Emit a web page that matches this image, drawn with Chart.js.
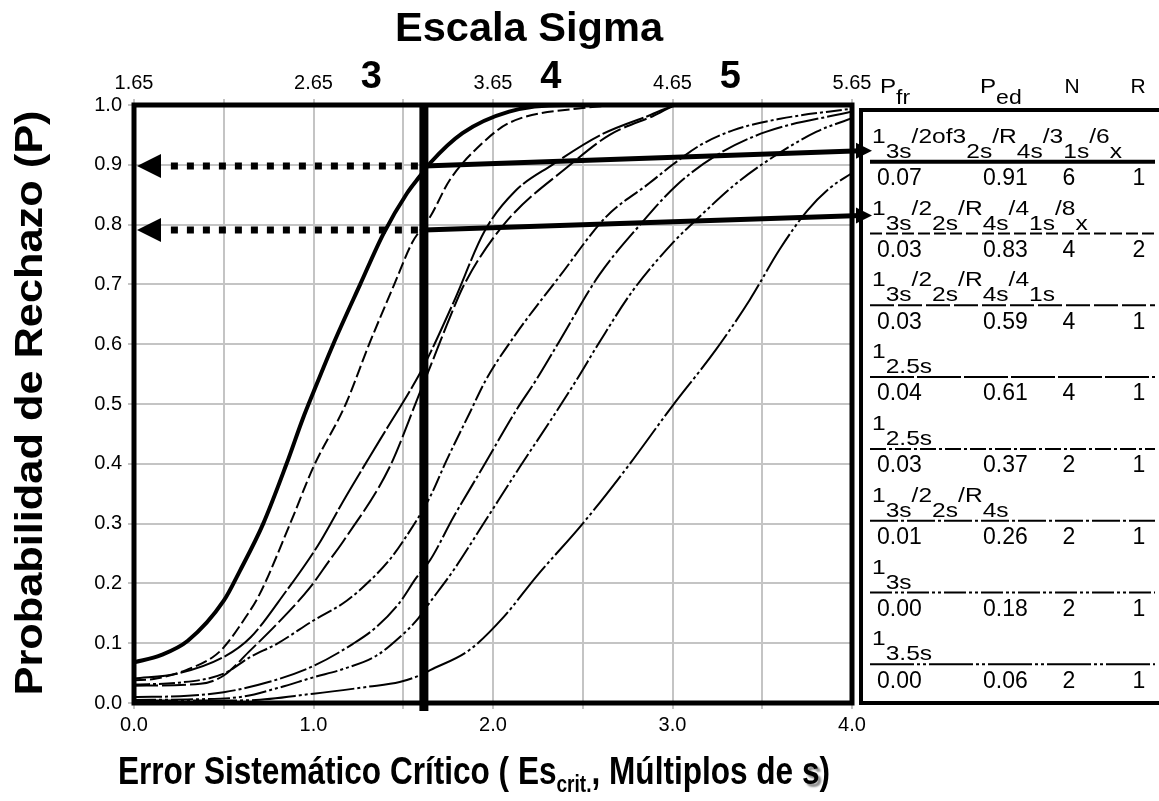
<!DOCTYPE html>
<html>
<head>
<meta charset="utf-8">
<title>Curvas de potencia - Escala Sigma</title>
<script src="https://cdn.jsdelivr.net/npm/chart.js@4.4.1/dist/chart.umd.min.js"></script>
<style>
  html, body { margin: 0; background: #fff; }
  #wrap { width: 1159px; height: 801px; position: relative; }
</style>
</head>
<body>
<div id="wrap"><canvas id="powerChart"></canvas></div>
<script>
// Power curves: probability of rejection vs. critical systematic error
const r1X = [0, 0.15, 0.3, 0.5, 0.59, 0.72, 0.85, 0.94, 1.0, 1.11, 1.26, 1.39, 1.52, 1.59, 1.65, 1.83, 2.09, 2.4, 4.0];
const r1P = [0.068, 0.08, 0.104, 0.171, 0.221, 0.30, 0.40, 0.475, 0.52, 0.60, 0.70, 0.785, 0.852, 0.88, 0.903, 0.953, 0.989, 1.0, 1.0];

const r2X = [0, 0.11, 0.29, 0.44, 0.5, 0.61, 0.70, 0.87, 1.0, 1.18, 1.31, 1.45, 1.55, 1.65, 1.76, 1.94, 2.09, 2.5, 2.8, 4.0];
const r2P = [0.038, 0.04, 0.055, 0.077, 0.093, 0.138, 0.182, 0.30, 0.395, 0.50, 0.60, 0.70, 0.77, 0.813, 0.875, 0.936, 0.97, 0.995, 1.0, 1.0];

const r3X = [0, 0.37, 0.5, 0.648, 0.796, 0.98, 1.09, 1.167, 1.425, 1.583, 1.65, 1.76, 1.84, 2.06, 2.43, 2.65, 2.88, 3.05, 4.0];
const r3P = [0.029, 0.032, 0.046, 0.088, 0.132, 0.193, 0.239, 0.271, 0.395, 0.512, 0.562, 0.645, 0.70, 0.80, 0.90, 0.95, 0.98, 1.0, 1.0];

const r4X = [0, 0.24, 0.5, 0.65, 0.85, 0.98, 1.04, 1.18, 1.37, 1.583, 1.65, 1.78, 1.955, 2.12, 2.33, 2.6, 2.85, 3.05, 4.0];
const r4P = [0.041, 0.049, 0.077, 0.11, 0.188, 0.243, 0.271, 0.345, 0.44, 0.546, 0.585, 0.67, 0.79, 0.855, 0.90, 0.95, 0.98, 1.0, 1.0];

const r5X = [0, 0.25, 0.5, 0.648, 0.796, 1.0, 1.185, 1.333, 1.425, 1.5, 1.65, 1.74, 1.87, 1.96, 2.13, 2.37, 2.63, 2.87, 3.0, 3.15, 3.34, 3.6, 4.0];
const r5P = [0.031, 0.034, 0.049, 0.077, 0.099, 0.138, 0.171, 0.21, 0.24, 0.271, 0.345, 0.405, 0.485, 0.54, 0.618, 0.713, 0.813, 0.869, 0.90, 0.932, 0.958, 0.977, 0.994];

const r6X = [0, 0.3, 0.5, 0.75, 1.0, 1.22, 1.35, 1.48, 1.574, 1.65, 1.78, 1.945, 2.13, 2.24, 2.37, 2.59, 2.82, 3.02, 3.24, 3.52, 4.0];
const r6P = [0.01, 0.012, 0.018, 0.035, 0.062, 0.099, 0.127, 0.168, 0.21, 0.239, 0.311, 0.395, 0.49, 0.54, 0.605, 0.715, 0.80, 0.865, 0.915, 0.955, 0.989];

const r7X = [0, 0.3, 0.593, 0.8, 1.0, 1.167, 1.35, 1.48, 1.574, 1.65, 1.78, 1.96, 2.15, 2.335, 2.465, 2.59, 2.78, 3.0, 3.15, 3.34, 3.52, 3.8, 4.0];
const r7P = [0.005, 0.006, 0.01, 0.025, 0.043, 0.057, 0.079, 0.11, 0.138, 0.169, 0.222, 0.306, 0.395, 0.479, 0.54, 0.602, 0.69, 0.769, 0.813, 0.865, 0.905, 0.955, 0.978];

const r8X = [0, 0.61, 1.0, 1.3, 1.48, 1.59, 1.65, 1.87, 2.06, 2.24, 2.5, 2.75, 3.0, 3.24, 3.43, 3.6, 3.75, 3.88, 4.0];
const r8P = [0.004, 0.0044, 0.0156, 0.027, 0.035, 0.046, 0.055, 0.089, 0.144, 0.211, 0.30, 0.395, 0.497, 0.59, 0.674, 0.76, 0.823, 0.862, 0.886];

// QC rules (superscript:subscript, rules separated by "/") and their table values
const ruleNames = [
  '1:3s/2of3:2s/R:4s/3:1s/6:x',
  '1:3s/2:2s/R:4s/4:1s/8:x',
  '1:3s/2:2s/R:4s/4:1s',
  '1:2.5s',
  '1:2.5s',
  '1:3s/2:2s/R:4s',
  '1:3s',
  '1:3.5s'
];
const pfr = [0.07, 0.03, 0.03, 0.04, 0.03, 0.01, 0.00, 0.00];
const ped = [0.91, 0.83, 0.59, 0.61, 0.37, 0.26, 0.18, 0.06];
const nCtl = [6, 4, 4, 4, 2, 2, 2, 2];
const nRuns = [1, 2, 1, 1, 1, 1, 1, 1];

// critical systematic error and the two read-out levels on the P axis
const seCrit = 1.615;
const readoutP = [0.898, 0.791];
const sigmaMarks = [3, 4, 5];
const sigmaOffset = 1.65;

const curveX = [r1X, r2X, r3X, r4X, r5X, r6X, r7X, r8X];
const curveP = [r1P, r2P, r3P, r4P, r5P, r6P, r7P, r8P];
const dashes = [[], [12, 4], [24, 4], [44, 3], [16, 3, 3, 3], [28, 3, 3, 3], [22, 3, 3, 3, 3, 3], [44, 3, 3, 3, 3, 3]];
const widths = [4, 2, 2, 2, 2, 2, 2, 2];

const FONT = '"Liberation Sans", Arial, Helvetica, sans-serif';
const GRID = '#c4c4c4';

const datasets = curveX.map((xs, i) => ({
  label: ruleNames[i],
  data: xs.map((v, k) => ({ x: v, y: curveP[i][k] })),
  borderColor: '#000',
  borderWidth: widths[i],
  borderDash: dashes[i],
  pointRadius: 0,
  fill: false,
  cubicInterpolationMode: 'monotone'
}));

// legend panel geometry
const legendX = 861;
const legendTop = 110;
const rowY = i => 161.7 + 71.8 * i;

function arrowHead(ctx, tipX, tipY, dir, len, half) {
  ctx.beginPath();
  ctx.moveTo(tipX, tipY);
  ctx.lineTo(tipX - dir * len, tipY - half);
  ctx.lineTo(tipX - dir * len, tipY + half);
  ctx.closePath();
  ctx.fill();
}

// draws a sequence of [text, font, dy, shadow] pieces stretched to a given width
function fitParts(ctx, parts, cx, cy, width, angle) {
  let total = 0;
  parts.forEach(p => { ctx.font = p[1]; total += ctx.measureText(p[0]).width; });
  ctx.save();
  ctx.translate(cx, cy);
  ctx.rotate(angle || 0);
  ctx.scale(width / total, 1);
  ctx.textBaseline = 'alphabetic';
  ctx.textAlign = 'left';
  let x = -total / 2;
  parts.forEach(p => {
    ctx.font = p[1];
    if (p[3]) {
      ctx.shadowColor = 'rgba(0,0,0,0.45)';
      ctx.shadowOffsetX = 3;
      ctx.shadowOffsetY = 3;
      ctx.shadowBlur = 2;
    }
    ctx.fillText(p[0], x, p[2] || 0);
    ctx.shadowColor = 'transparent';
    x += ctx.measureText(p[0]).width;
  });
  ctx.restore();
}

const extras = {
  id: 'powerExtras',
  afterDatasetsDraw(chart) {
    const { ctx, chartArea: a, scales: { x, y } } = chart;
    ctx.save();
    ctx.strokeStyle = '#000';
    ctx.fillStyle = '#000';

    // plot frame
    ctx.lineWidth = 5;
    ctx.strokeRect(a.left, a.top, a.right - a.left, a.bottom - a.top);

    // vertical line at the critical systematic error
    const xc = x.getPixelForValue(seCrit);
    ctx.lineWidth = 9;
    ctx.beginPath();
    ctx.moveTo(xc, a.top);
    ctx.lineTo(xc, a.bottom + 8);
    ctx.stroke();

    readoutP.forEach((p, i) => {
      const yp = y.getPixelForValue(p);
      // dotted arrow back to the P axis
      ctx.lineWidth = 7;
      ctx.setLineDash([7, 9]);
      ctx.beginPath();
      ctx.moveTo(xc - 6, yp);
      ctx.lineTo(a.left + 28, yp);
      ctx.stroke();
      ctx.setLineDash([]);
      arrowHead(ctx, a.left + 3, yp, -1, 24, 12);
      // solid arrow to the matching table row
      const ty = rowY(i) - 11 - 7 * i;
      ctx.lineWidth = 5;
      ctx.beginPath();
      ctx.moveTo(xc, yp);
      ctx.lineTo(legendX, ty);
      ctx.stroke();
      arrowHead(ctx, legendX + 11, ty, 1, 16, 8);
    });
    ctx.restore();
  },
  afterDraw(chart) {
    const { ctx, chartArea: a, scales: { x } } = chart;
    ctx.save();
    ctx.fillStyle = '#000';
    ctx.strokeStyle = '#000';

    // titles
    fitParts(ctx, [['Escala Sigma', 'bold 40px ' + FONT]], 529, 41, 268);
    fitParts(ctx, [['Probabilidad de Rechazo (P)', 'bold 38px ' + FONT]], 42, 403, 585, -Math.PI / 2);
    fitParts(ctx, [
      ['Error Sistemático Crítico ( Es', 'bold 38px ' + FONT],
      ['crit.', 'bold 23px ' + FONT, 8],
      [', Múltiplos de ', 'bold 38px ' + FONT],
      ['s', 'bold 38px ' + FONT, 0, true],
      [')', 'bold 38px ' + FONT]
    ], 474, 784, 712);

    // sigma scale values
    ctx.font = 'bold 38px ' + FONT;
    ctx.textAlign = 'center';
    ctx.textBaseline = 'alphabetic';
    sigmaMarks.forEach(s => {
      ctx.fillText(String(s), x.getPixelForValue(s - sigmaOffset) - 5, 88);
    });

    // table box
    ctx.lineWidth = 4;
    ctx.beginPath();
    ctx.moveTo(legendX, a.bottom);
    ctx.lineTo(legendX, legendTop);
    ctx.lineTo(chart.width + 5, legendTop);
    ctx.moveTo(legendX - 2, a.bottom);
    ctx.lineTo(chart.width + 5, a.bottom);
    ctx.stroke();

    // table header
    const head = (main, sub, x0) => {
      ctx.save();
      ctx.translate(x0, 0);
      ctx.scale(1.15, 1);
      ctx.textAlign = 'left';
      ctx.font = '21px ' + FONT;
      ctx.fillText(main, 0, 93);
      const w = ctx.measureText(main).width;
      ctx.font = '20px ' + FONT;
      ctx.fillText(sub, w, 104);
      ctx.restore();
    };
    head('P', 'fr', 880);
    head('P', 'ed', 980);
    ctx.font = '21px ' + FONT;
    ctx.textAlign = 'center';
    ctx.fillText('N', 1072, 93);
    ctx.fillText('R', 1138, 93);

    // table rows: rule name, line style, values
    ruleNames.forEach((name, i) => {
      const ly = rowY(i);
      const parts = name.split('/').map((tok, k) => {
        const [sup, sub] = tok.split(':');
        return [(k ? '/' : '') + sup, sub];
      });
      ctx.save();
      ctx.translate(872, 0);
      ctx.scale(1.17, 1);
      ctx.font = '21px ' + FONT;
      ctx.textAlign = 'left';
      let cx = 0;
      parts.forEach(([sup, sub]) => {
        ctx.fillText(sup, cx, ly - 19);
        cx += ctx.measureText(sup).width;
        ctx.fillText(sub, cx, ly - 4);
        cx += ctx.measureText(sub).width;
      });
      ctx.restore();

      ctx.lineWidth = widths[i];
      ctx.setLineDash(dashes[i]);
      ctx.beginPath();
      ctx.moveTo(870, ly);
      ctx.lineTo(1155, ly);
      ctx.stroke();
      ctx.setLineDash([]);

      ctx.font = '23px ' + FONT;
      ctx.textBaseline = 'middle';
      ctx.textAlign = 'left';
      ctx.fillText(pfr[i].toFixed(2), 877, ly + 17);
      ctx.fillText(ped[i].toFixed(2), 983, ly + 17);
      ctx.textAlign = 'center';
      ctx.fillText(String(nCtl[i]), 1069, ly + 17);
      ctx.fillText(String(nRuns[i]), 1139, ly + 17);
      ctx.textBaseline = 'alphabetic';
    });
    ctx.restore();
  }
};

new Chart(document.getElementById('powerChart'), {
  type: 'line',
  data: { datasets },
  options: {
    responsive: true,
    maintainAspectRatio: false,
    animation: false,
    layout: { padding: { left: 0, top: 0, right: 307, bottom: 0 } },
    plugins: { legend: { display: false }, tooltip: { enabled: false } },
    scales: {
      x: {
        type: 'linear', position: 'bottom', min: 0, max: 4,
        ticks: {
          stepSize: 0.5, autoSkip: false, maxRotation: 0, padding: 4,
          color: '#000', font: { family: FONT, size: 20 },
          callback: v => Number.isInteger(v) ? v.toFixed(1) : ''
        },
        grid: { color: GRID, lineWidth: 2, tickLength: 6 },
        border: { display: false },
        afterFit: s => { s.height = 98; }
      },
      xTop: {
        type: 'linear', position: 'top', min: 0, max: 4,
        ticks: {
          stepSize: 0.5, autoSkip: false, maxRotation: 0, padding: 4,
          color: '#000', font: { family: FONT, size: 20 },
          callback: v => Number.isInteger(v) ? (v + sigmaOffset).toFixed(2) : ''
        },
        grid: { color: GRID, lineWidth: 2, tickLength: 6, drawOnChartArea: false },
        border: { display: false },
        afterFit: s => { s.height = 105; }
      },
      y: {
        min: 0, max: 1,
        ticks: {
          stepSize: 0.1, padding: 6,
          color: '#000', font: { family: FONT, size: 20 },
          callback: v => v.toFixed(1)
        },
        grid: { color: GRID, lineWidth: 2, tickLength: 6 },
        border: { display: false },
        afterFit: s => { s.height; s.width = 134; }
      }
    }
  },
  plugins: [extras]
});
</script>
</body>
</html>
